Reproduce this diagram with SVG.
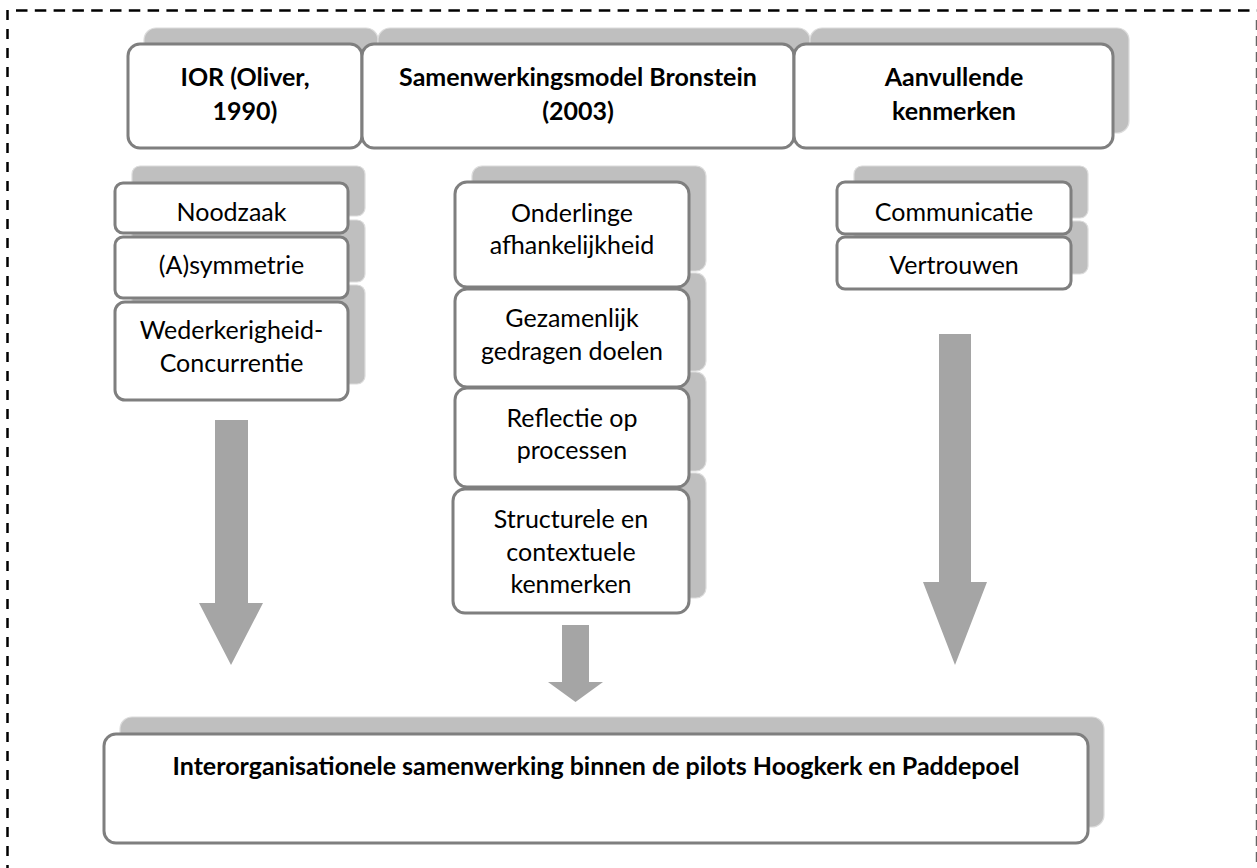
<svg xmlns="http://www.w3.org/2000/svg" width="1257" height="868" viewBox="0 0 1257 868">
<style>
.frame{stroke:#000;stroke-width:2.5;fill:none}
.sh{fill:#bfbfbf;stroke:#dcdcdc;stroke-width:1.2}
.bx{fill:#fff;stroke:#7f7f7f;stroke-width:3}
.ar{fill:#a5a5a5}
text{font-family:Lato,"Open Sans","Liberation Sans",sans-serif;fill:#000;text-anchor:middle}
.b{font-weight:bold;font-size:25px}
.r{font-size:25px}
</style>
<rect width="1257" height="868" fill="#fff"/>
<g id="frame">
<line class="frame" x1="16" y1="10.5" x2="1257" y2="10.5" stroke-dasharray="11.5 7.3"/>
<line class="frame" x1="7.5" y1="10" x2="7.5" y2="868" stroke-dasharray="10 9"/>
<line class="frame" x1="1256.5" y1="20" x2="1256.5" y2="868" stroke-dasharray="10 6" style="stroke:#666;stroke-width:1.5"/>
</g>
<g id="shadows">
<rect class="sh" x="144" y="28" width="234" height="104" rx="12"/>
<rect class="sh" x="378" y="28" width="432" height="104" rx="12"/>
<rect class="sh" x="810" y="28" width="319" height="105" rx="12"/>
<rect class="sh" x="132" y="166" width="233" height="50" rx="8"/>
<rect class="sh" x="132" y="220" width="233" height="62" rx="8"/>
<rect class="sh" x="132" y="285" width="233" height="99" rx="8"/>
<rect class="sh" x="472" y="166" width="234" height="105" rx="10"/>
<rect class="sh" x="472" y="273" width="234" height="98" rx="10"/>
<rect class="sh" x="472" y="372" width="234" height="99" rx="10"/>
<rect class="sh" x="472" y="473" width="234" height="125" rx="10"/>
<rect class="sh" x="854" y="166" width="234" height="52" rx="8"/>
<rect class="sh" x="854" y="221" width="234" height="53" rx="8"/>
<rect class="sh" x="120" y="717" width="984" height="110" rx="12"/>
</g>
<g id="connectors">
<polygon class="ar" points="215,420 248,420 248,603 263,603 231,665 199,603 215,603"/>
<polygon class="ar" points="562,625 589,625 589,682 603,682 575.5,702 548,682 562,682"/>
<polygon class="ar" points="939,334 971,334 971,582 987,582 955,665 923,582 939,582"/>
</g>
<g id="ior">
<rect class="bx" x="128" y="44" width="234" height="104" rx="12"/>
<text class="b" x="245" y="86">IOR (Oliver,</text>
<text class="b" x="245" y="120">1990)</text>
</g>
<g id="bronstein">
<rect class="bx" x="362" y="44" width="432" height="104" rx="12"/>
<text class="b" x="578" y="86">Samenwerkingsmodel Bronstein</text>
<text class="b" x="578" y="120">(2003)</text>
</g>
<g id="aanvullend">
<rect class="bx" x="794" y="44" width="319" height="104" rx="12"/>
<text class="b" x="954" y="86">Aanvullende</text>
<text class="b" x="954" y="120">kenmerken</text>
</g>
<g id="noodzaak">
<rect class="bx" x="115" y="183" width="233" height="50" rx="8"/>
<text class="r" x="231.5" y="221">Noodzaak</text>
</g>
<g id="asymmetrie">
<rect class="bx" x="115" y="237" width="233" height="61" rx="8"/>
<text class="r" x="231.5" y="274">(A)symmetrie</text>
</g>
<g id="wederkerigheid">
<rect class="bx" x="115" y="302" width="233" height="98" rx="10"/>
<text class="r" x="231.5" y="339">Wederkerigheid-</text>
<text class="r" x="231.5" y="372">Concurrentie</text>
</g>
<g id="onderlinge">
<rect class="bx" x="455" y="182" width="234" height="105" rx="12"/>
<text class="r" x="572" y="222">Onderlinge</text>
<text class="r" x="572" y="254">afhankelijkheid</text>
</g>
<g id="gezamenlijk">
<rect class="bx" x="455" y="289" width="234" height="98" rx="12"/>
<text class="r" x="572" y="327">Gezamenlijk</text>
<text class="r" x="572" y="360">gedragen doelen</text>
</g>
<g id="reflectie">
<rect class="bx" x="455" y="388" width="234" height="99" rx="12"/>
<text class="r" x="572" y="427">Reflectie op</text>
<text class="r" x="572" y="459">processen</text>
</g>
<g id="structurele">
<rect class="bx" x="453" y="489" width="236" height="124" rx="12"/>
<text class="r" x="571" y="528">Structurele en</text>
<text class="r" x="571" y="561">contextuele</text>
<text class="r" x="571" y="593">kenmerken</text>
</g>
<g id="communicatie">
<rect class="bx" x="837" y="182" width="234" height="52" rx="8"/>
<text class="r" x="954" y="221">Communicatie</text>
</g>
<g id="vertrouwen">
<rect class="bx" x="837" y="237" width="234" height="52" rx="8"/>
<text class="r" x="954" y="274">Vertrouwen</text>
</g>
<g id="samenwerking">
<rect class="bx" x="104" y="734" width="984" height="109" rx="12"/>
<text class="b" x="596" y="775">Interorganisationele samenwerking binnen de pilots Hoogkerk en Paddepoel</text>
</g>
</svg>
